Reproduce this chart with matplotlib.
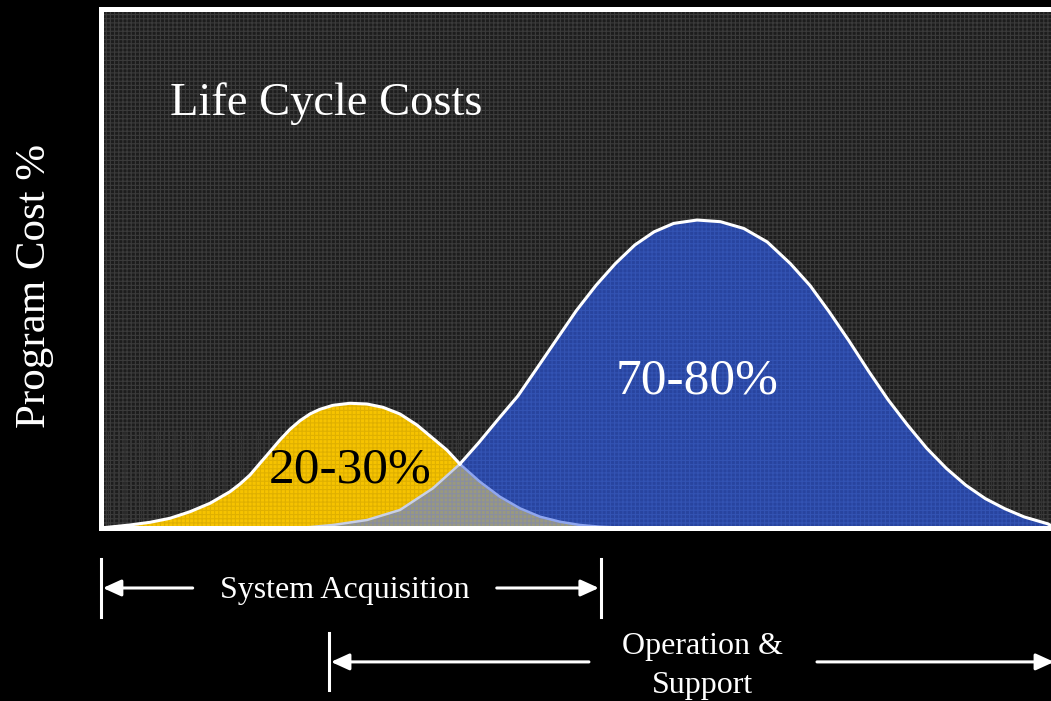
import matplotlib

matplotlib.use("Agg")
import matplotlib.pyplot as plt  # noqa: E402
import numpy as np  # noqa: E402
from matplotlib.patches import Rectangle  # noqa: E402
from matplotlib.transforms import blended_transform_factory  # noqa: E402

plt.rcParams["font.family"] = ["Liberation Serif", "DejaVu Serif"]
plt.rcParams["hatch.linewidth"] = 0.8

# x: point in the program life (0-100), y: relative program cost (0-100)
acq_x = [0.0, 3.10, 5.21, 7.31, 9.42, 11.52, 13.62, 14.68, 15.73, 16.78,
         17.83, 18.88, 19.94, 20.99, 22.04, 23.09, 24.46, 26.25, 28.04,
         29.72, 31.51, 33.30, 34.98, 36.45, 37.82, 39.92, 42.03, 44.13,
         46.24, 48.34, 50.45, 52.55, 55.71]
acq_y = [0.0, 0.58, 1.10, 1.87, 3.14, 4.76, 6.99, 8.48, 10.21, 12.47,
         14.70, 16.96, 19.02, 20.67, 21.97, 22.87, 23.64, 24.03, 23.89,
         23.26, 21.97, 19.85, 17.28, 15.03, 12.33, 8.92, 6.03, 3.80,
         2.18, 1.21, 0.58, 0.25, 0.0]

ops_x = [20.99, 24.46, 28.04, 31.51, 34.98, 37.82, 39.82, 41.87, 43.92,
         45.97, 48.03, 50.07, 52.13, 54.17, 56.23, 58.26, 60.32, 62.78,
         65.24, 67.70, 70.16, 72.61, 74.67, 76.72, 78.77, 80.82, 82.87,
         84.91, 86.95, 89.02, 91.06, 93.12, 95.16, 97.22, 99.68, 100.5]
ops_y = [0.0, 0.58, 1.54, 3.47, 7.65, 12.33, 16.47, 21.00, 25.43,
         30.89, 36.42, 41.87, 46.72, 50.92, 54.53, 57.07, 58.69, 59.34,
         59.02, 57.71, 55.12, 50.92, 46.72, 41.56, 36.05, 30.25, 24.74,
         19.88, 15.36, 11.48, 8.25, 5.66, 3.72, 2.12, 0.81, 0.0]

cross_x = 37.82  # where the two curves meet

acq_label = "20-30%"
ops_label = "70-80%"
title = "Life Cycle Costs"
y_title = "Program Cost %"

phase_names = ["System Acquisition", "Operation &\nSupport"]
phase_start = [0.0, 24.0]
phase_end = [52.7, 100.6]

acq_x = np.array(acq_x)
acq_y = np.array(acq_y)
ops_x = np.array(ops_x)
ops_y = np.array(ops_y)

fig = plt.figure(figsize=(10.51, 7.01), dpi=100, facecolor="black")
ax = fig.add_axes([100.5 / 1051, 173 / 701, 955 / 1051, 519 / 701])
ax.set_xlim(0, 100.5)
ax.set_ylim(0, 100)
ax.set_facecolor("#1d1d1d")
ax.set_xticks([])
ax.set_yticks([])
for side in ["left", "top", "bottom"]:
    ax.spines[side].set_color("white")
    ax.spines[side].set_linewidth(3.6)
    ax.spines[side].set_zorder(8)
ax.spines["right"].set_visible(False)

# textured backdrop
ax.add_patch(Rectangle((0, 0), 1, 1, transform=ax.transAxes,
                       facecolor="#1d1d1d", edgecolor="#3b3b3b",
                       hatch="++++", linewidth=0, zorder=0))
ax.add_patch(Rectangle((0, 0), 1, 0.185, transform=ax.transAxes,
                       facecolor="none", edgecolor="#363636",
                       hatch="|||", linewidth=0, zorder=0.5))

# filled cost curves
ax.fill(acq_x, acq_y, facecolor="#f6c300", edgecolor="#dfb000",
        hatch="++++", linewidth=0, zorder=2)
ax.fill(ops_x, ops_y, facecolor="#28449f", edgecolor="#3353b3",
        hatch="++++", linewidth=0, zorder=3)

# overlap of the two phases
gx = np.concatenate([ops_x[ops_x <= cross_x], acq_x[acq_x > cross_x]])
gy = np.concatenate([ops_y[ops_x <= cross_x], acq_y[acq_x > cross_x]])
ax.fill(gx, gy, facecolor="#99997f", edgecolor="#8a8ea0",
        hatch="++++", linewidth=0, zorder=4)

# hidden curve parts in light blue, outer envelope in white
ax.plot(acq_x[acq_x >= cross_x], acq_y[acq_x >= cross_x],
        color="#8fa6f0", lw=1.8, zorder=5)
ax.plot(ops_x[ops_x <= cross_x], ops_y[ops_x <= cross_x],
        color="#c8d0e8", lw=1.8, zorder=5)
ax.plot(acq_x[acq_x <= cross_x], acq_y[acq_x <= cross_x],
        color="white", lw=2.2, zorder=6, solid_joinstyle="round")
ax.plot(ops_x[ops_x >= cross_x], ops_y[ops_x >= cross_x],
        color="white", lw=2.2, zorder=6, solid_joinstyle="round")

ax.text(7.3, 81.8, title, color="white", fontsize=33.5,
        ha="left", va="center", zorder=7)
ax.text(acq_x[np.argmax(acq_y)], 11.2, acq_label, color="black",
        fontsize=37, ha="center", va="center", zorder=7)
ax.text(ops_x[np.argmax(ops_y)], 28.3, ops_label, color="white",
        fontsize=37, ha="center", va="center", zorder=7)

fig.text(35 / 1051, (701 - 286) / 701, y_title, color="white", fontsize=31,
         rotation=90, ha="center", va="center")

# phase spans under the chart
trans = blended_transform_factory(ax.transData, ax.transAxes)
rows = [-0.1156, -0.258]
text_rows = [-0.121, -0.266]
label_x = [25.7, 63.4]
gaps = [16.0, 12.0]
arrow = dict(arrowstyle="-|>,head_length=1.1,head_width=0.5",
             color="white", lw=2.2, shrinkA=0, shrinkB=0)
for name, x0, x1, ry, ty, lx, gap in zip(phase_names, phase_start,
                                         phase_end, rows, text_rows,
                                         label_x, gaps):
    ax.plot([x0, x0], [ry + 0.055, ry - 0.055], color="white", lw=2.2,
            transform=trans, clip_on=False)
    if x1 < 100:
        ax.plot([x1, x1], [ry + 0.055, ry - 0.055], color="white", lw=2.2,
                transform=trans, clip_on=False)
    ax.annotate("", xy=(x0 + 0.25, ry), xytext=(lx - gap, ry),
                xycoords=trans, textcoords=trans, arrowprops=arrow,
                annotation_clip=False)
    ax.annotate("", xy=(x1 - 0.25, ry), xytext=(lx + gap, ry),
                xycoords=trans, textcoords=trans, arrowprops=arrow,
                annotation_clip=False)
    ax.text(lx, ty, name, color="white", fontsize=23, ha="center",
            va="center", transform=trans, linespacing=1.42)

fig.savefig("out.png", dpi=100, facecolor="black")
